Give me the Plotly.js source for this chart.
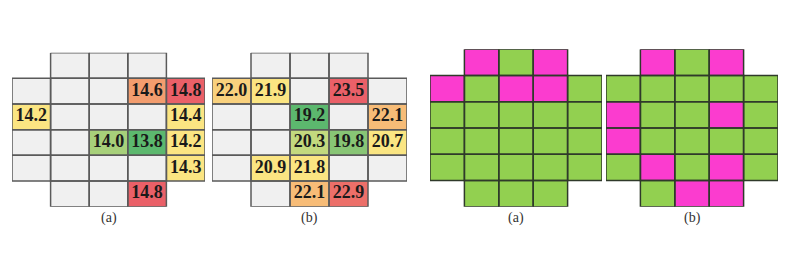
<!DOCTYPE html>
<html>
<head>
<meta charset="utf-8">
<script src="https://cdn.plot.ly/plotly-3.0.1.min.js"></script>
<style>html,body{margin:0;padding:0;background:#fff;}#chart{width:800px;height:266px;}</style>
</head>
<body>
<div id="chart"></div>
<script>
// grid: 6 rows x 5 columns; columns present in each row
const shapeRows = [[1,2,3],[0,1,2,3,4],[0,1,2,3,4],[0,1,2,3,4],[0,1,2,3,4],[1,2,3]];
const panelLabels = ['(a)', '(b)', '(a)', '(b)'];

// left pair: values (null = empty grey cell)
const valuesA = [
  [null, null, null, null, null],
  [null, null, null, 14.6, 14.8],
  [14.2, null, null, null, 14.4],
  [null, null, 14.0, 13.8, 14.2],
  [null, null, null, null, 14.3],
  [null, null, null, 14.8, null]
];
const valuesB = [
  [null, null, null, null, null],
  [22.0, 21.9, null, 23.5, null],
  [null, null, 19.2, null, 22.1],
  [null, null, 20.3, 19.8, 20.7],
  [null, 20.9, 21.8, null, null],
  [null, null, 22.1, 22.9, null]
];
// right pair: 1 = magenta, 0 = green
const mapA = [
  [null, 1, 0, 1, null],
  [1, 0, 1, 1, 0],
  [0, 0, 0, 0, 0],
  [0, 0, 0, 0, 0],
  [0, 0, 0, 0, 0],
  [null, 0, 0, 0, null]
];
const mapB = [
  [null, 1, 0, 1, null],
  [0, 0, 0, 0, 0],
  [1, 0, 0, 1, 0],
  [1, 0, 0, 0, 0],
  [0, 1, 0, 1, 0],
  [null, 0, 1, 1, null]
];

const cols = [0,1,2,3,4];
const rows = [0,1,2,3,4,5];

const heatScale = [
  [0, '#5cb86e'], [0.12, '#7ec273'], [0.25, '#c0d87e'], [0.35, '#fbe582'],
  [0.63, '#fbe582'], [0.7, '#f4a470'], [0.8, '#f39d6e'], [0.88, '#ea6068'], [1, '#ea6068']
];

function inShape(r, c) { return shapeRows[r].indexOf(c) >= 0; }

function borderTrace(ax, color, width) {
  const xs = [], ys = [];
  rows.forEach(r => shapeRows[r].forEach(c => {
    xs.push(c-0.5, c+0.5, c+0.5, c-0.5, c-0.5, null);
    ys.push(r-0.5, r-0.5, r+0.5, r+0.5, r-0.5, null);
  }));
  return {type:'scatter', mode:'lines', x:xs, y:ys, xaxis:'x'+ax, yaxis:'y'+ax,
    line:{color:color, width:width}, hoverinfo:'skip', showlegend:false, cliponaxis:false};
}

const traces = [];

function valuePanel(ax, vals) {
  const bg = rows.map(r => cols.map(c => inShape(r,c) ? 1 : null));
  traces.push({type:'heatmap', x:cols, y:rows, z:bg, xaxis:'x'+ax, yaxis:'y'+ax,
    colorscale:[[0,'#f0f0f0'],[1,'#f0f0f0']], showscale:false, hoverinfo:'skip'});
  const flat = [];
  vals.forEach(row => row.forEach(v => { if (v !== null) flat.push(v); }));
  const mn = Math.min(...flat), mx = Math.max(...flat);
  traces.push({type:'heatmap', x:cols, y:rows, z:vals, xaxis:'x'+ax, yaxis:'y'+ax,
    zmin:mn, zmax:mx, showscale:false, hoverinfo:'skip', colorscale:heatScale});
  traces.push(borderTrace(ax, '#5a5a5a', 1.5));
  const tx = [], ty = [], tt = [];
  rows.forEach(r => cols.forEach(c => {
    if (vals[r][c] !== null) { tx.push(c); ty.push(r); tt.push(vals[r][c].toFixed(1)); }
  }));
  traces.push({type:'scatter', mode:'text', x:tx, y:ty, text:tt, xaxis:'x'+ax, yaxis:'y'+ax,
    textfont:{family:'Liberation Serif', size:18, color:'#1a1a1a', weight:'bold'},
    hoverinfo:'skip', showlegend:false, cliponaxis:false});
}

function mapPanel(ax, m) {
  traces.push({type:'heatmap', x:cols, y:rows, z:m, xaxis:'x'+ax, yaxis:'y'+ax,
    zmin:0, zmax:1, showscale:false, hoverinfo:'skip',
    colorscale:[[0,'#92d050'],[0.5,'#92d050'],[0.5,'#fb3ccf'],[1,'#fb3ccf']]});
  traces.push(borderTrace(ax, '#2f3a2a', 1.5));
}

valuePanel('', valuesA);
valuePanel('2', valuesB);
mapPanel('3', mapA);
mapPanel('4', mapB);

function xa(d) { return {domain:d, range:[-0.5,4.5], visible:false, fixedrange:true}; }
function ya(d, anchor) { return {domain:d, range:[5.5,-0.5], visible:false, fixedrange:true, anchor:anchor}; }

const H = 266, W = 800;
const dLeftY = [1-206.7/H, 1-52.7/H];
const dRightY = [1-206.7/H, 1-49.3/H];

const layout = {
  width:W, height:H, margin:{l:0,r:0,t:0,b:0},
  paper_bgcolor:'#ffffff', plot_bgcolor:'rgba(0,0,0,0)', showlegend:false,
  xaxis: Object.assign(xa([12/W, 205/W]), {anchor:'y'}),
  yaxis: ya(dLeftY, 'x'),
  xaxis2: Object.assign(xa([212/W, 407/W]), {anchor:'y2'}),
  yaxis2: ya(dLeftY, 'x2'),
  xaxis3: Object.assign(xa([430/W, 602/W]), {anchor:'y3'}),
  yaxis3: ya(dRightY, 'x3'),
  xaxis4: Object.assign(xa([606/W, 778/W]), {anchor:'y4'}),
  yaxis4: ya(dRightY, 'x4'),
  annotations: ['x','x2','x3','x4'].map((xr, i) => ({
    xref:xr, x:2, yref:'paper', y:1-218/H, yanchor:'middle', xanchor:'center',
    text:panelLabels[i], showarrow:false,
    font:{family:'Liberation Serif', size:14, color:'#333333'}
  }))
};

Plotly.newPlot('chart', traces, layout, {staticPlot:true, displayModeBar:false});
</script>
</body>
</html>
